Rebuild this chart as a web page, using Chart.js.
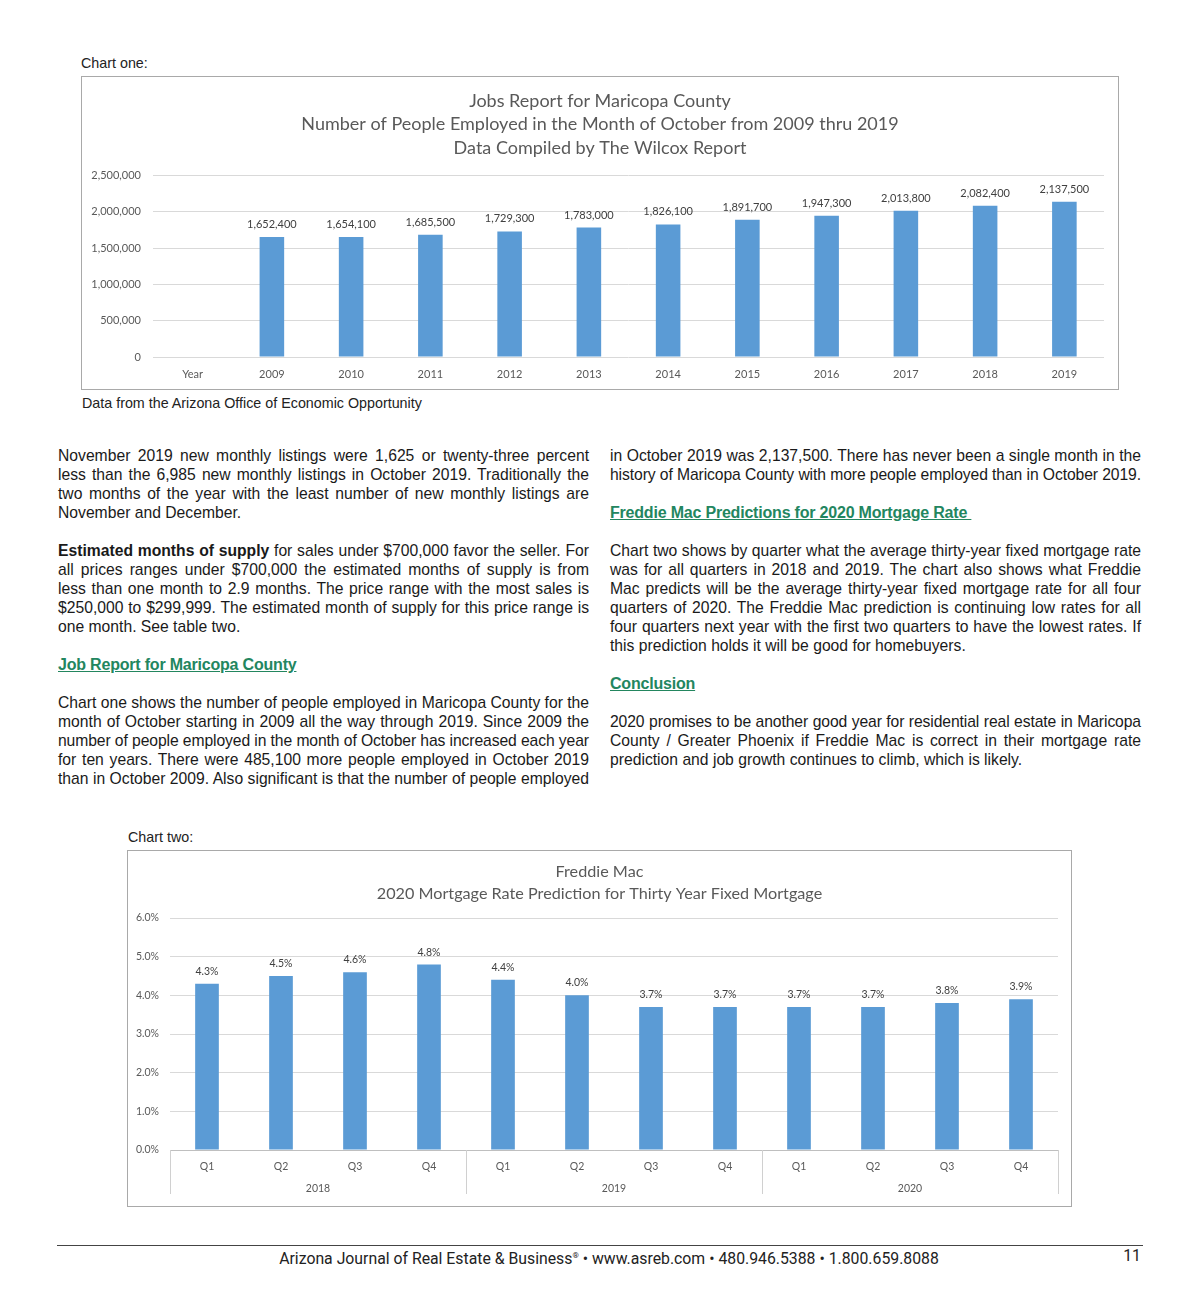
<!DOCTYPE html>
<html>
<head>
<meta charset="utf-8">
<script src="https://cdn.jsdelivr.net/npm/chart.js@4.4.1/dist/chart.umd.min.js"></script>
<style>
  html, body { margin: 0; padding: 0; background: #fff; }
  body { width: 1200px; height: 1302px; position: relative; font-family: "Liberation Sans", Arial, sans-serif; color: #1a1a1a; }
  .cap { position: absolute; font-size: 14.3px; line-height: 16px; color: #222; }
  .box { position: absolute; box-sizing: border-box; border: 1px solid #a9a9a9; background: #fff; }
  .box canvas { display: block; }
  .col { position: absolute; width: 531px; font-size: 15.7px; line-height: 19px; }
  .col .ln { white-space: nowrap; text-align: justify; text-align-last: justify; }
  .col .last { text-align: left; text-align-last: left; }
  .col .p { margin-bottom: 19px; }
  .col h3 { margin: 0 0 19px 0; font-size: 16px; line-height: 19px; font-weight: bold; color: #23865f; text-decoration: underline; white-space: pre; letter-spacing: -0.2px; }
  .rule { position: absolute; left: 57px; top: 1245px; width: 1086px; height: 1px; background: #444; }
  .foot { position: absolute; top: 1246px; font-family: Roboto, sans-serif; font-size: 15.8px; line-height: 19px; color: #222; }
</style>
</head>
<body>

<div class="cap" style="left:81px; top:55px;">Chart one:</div>
<div class="box" style="left:81px; top:76px; width:1038px; height:314px;"><canvas id="jobs"></canvas></div>
<div class="cap" style="left:82px; top:395px;">Data from the Arizona Office of Economic Opportunity</div>

<div class="col" id="left" style="left:58px; top:446px;">
  <div class="p">
    <div class="ln">November 2019 new monthly listings were 1,625 or twenty-three percent</div>
    <div class="ln">less than the 6,985 new monthly listings in October 2019. Traditionally the</div>
    <div class="ln">two months of the year with the least number of new monthly listings are</div>
    <div class="ln last">November and December.</div>
  </div>
  <div class="p">
    <div class="ln"><b>Estimated months of supply</b> for sales under $700,000 favor the seller. For</div>
    <div class="ln">all prices ranges under $700,000 the estimated months of supply is from</div>
    <div class="ln">less than one month to 2.9 months. The price range with the most sales is</div>
    <div class="ln">$250,000 to $299,999. The estimated month of supply for this price range is</div>
    <div class="ln last">one month. See table two.</div>
  </div>
  <h3>Job Report for Maricopa County</h3>
  <div class="p">
    <div class="ln">Chart one shows the number of people employed in Maricopa County for the</div>
    <div class="ln">month of October starting in 2009 all the way through 2019. Since 2009 the</div>
    <div class="ln">number of people employed in the month of October has increased each year</div>
    <div class="ln">for ten years. There were 485,100 more people employed in October 2019</div>
    <div class="ln">than in October 2009. Also significant is that the number of people employed</div>
  </div>
</div>

<div class="col" id="right" style="left:610px; top:446px;">
  <div class="p">
    <div class="ln">in October 2019 was 2,137,500. There has never been a single month in the</div>
    <div class="ln">history of Maricopa County with more people employed than in October 2019.</div>
  </div>
  <h3>Freddie Mac Predictions for 2020 Mortgage Rate </h3>
  <div class="p">
    <div class="ln">Chart two shows by quarter what the average thirty-year fixed mortgage rate</div>
    <div class="ln">was for all quarters in 2018 and 2019. The chart also shows what Freddie</div>
    <div class="ln">Mac predicts will be the average thirty-year fixed mortgage rate for all four</div>
    <div class="ln">quarters of 2020. The Freddie Mac prediction is continuing low rates for all</div>
    <div class="ln">four quarters next year with the first two quarters to have the lowest rates. If</div>
    <div class="ln last">this prediction holds it will be good for homebuyers.</div>
  </div>
  <h3>Conclusion</h3>
  <div class="p">
    <div class="ln">2020 promises to be another good year for residential real estate in Maricopa</div>
    <div class="ln">County / Greater Phoenix if Freddie Mac is correct in their mortgage rate</div>
    <div class="ln last">prediction and job growth continues to climb, which is likely.</div>
  </div>
</div>

<div class="cap" style="left:128px; top:829px;">Chart two:</div>
<div class="box" style="left:127px; top:850px; width:945px; height:357px;"><canvas id="rates"></canvas></div>

<div class="rule"></div>
<div class="foot" style="left:0; width:1218px; text-align:center;">Arizona Journal of Real Estate &amp; Business<sup style="font-size:8px;">®</sup> • www.asreb.com • 480.946.5388 • 1.800.659.8088</div>
<div class="foot" style="left:1100px; width:41px; text-align:right;">11</div>

<script>
// chart one data
const jobYears = ['Year', '2009', '2010', '2011', '2012', '2013', '2014', '2015', '2016', '2017', '2018', '2019'];
const jobCounts = [null, 1652400, 1654100, 1685500, 1729300, 1783000, 1826100, 1891700, 1947300, 2013800, 2082400, 2137500];
const jobTicks = [0, 500000, 1000000, 1500000, 2000000, 2500000];

// chart two data
const rateQuarters = ['Q1', 'Q2', 'Q3', 'Q4', 'Q1', 'Q2', 'Q3', 'Q4', 'Q1', 'Q2', 'Q3', 'Q4'];
const rateYears = ['2018', '2019', '2020'];
const rateValues = [4.3, 4.5, 4.6, 4.8, 4.4, 4.0, 3.7, 3.7, 3.7, 3.7, 3.8, 3.9];
const rateTicks = [0, 1, 2, 3, 4, 5, 6];

const FONT = 'Lato, "Open Sans", sans-serif';
const BAR = '#5b9bd5';

// squeeze body lines that would run past the column
document.querySelectorAll('.col .ln').forEach(el => {
    let ls = 0;
    while (el.scrollWidth > el.clientWidth + 0.5 && ls > -1.2) {
        ls -= 0.05;
        el.style.letterSpacing = ls + 'px';
    }
});

// empty right-hand axis, just keeps a margin so the title stays centred on the box
const spacer = w => ({
    position: 'right',
    display: true,
    grid: { display: false },
    border: { display: false },
    ticks: { display: false },
    afterFit: s => { s.width = w; }
});

// value labels above bars
const barLabels = {
    id: 'barLabels',
    afterDatasetsDraw(chart, args, opts) {
        const ctx = chart.ctx;
        const meta = chart.getDatasetMeta(0);
        const data = chart.data.datasets[0].data;
        ctx.save();
        ctx.font = opts.font;
        ctx.fillStyle = '#404040';
        ctx.textAlign = 'center';
        ctx.textBaseline = 'bottom';
        meta.data.forEach((bar, i) => {
            if (data[i] == null) return;
            ctx.fillText(opts.format(data[i]), bar.x, bar.y - opts.gap);
        });
        ctx.restore();
    }
};

// year groups under the quarter labels
const yearGroups = {
    id: 'yearGroups',
    afterDraw(chart) {
        const ctx = chart.ctx;
        const x = chart.scales.x;
        const area = chart.chartArea;
        const half = (x.getPixelForValue(1) - x.getPixelForValue(0)) / 2;
        ctx.save();
        ctx.strokeStyle = '#d0d0d0';
        ctx.lineWidth = 1;
        for (let g = 0; g <= rateYears.length; g++) {
            const px = Math.round(x.getPixelForValue(g * 4) - half) + 0.5;
            ctx.beginPath();
            ctx.moveTo(px, area.bottom);
            ctx.lineTo(px, area.bottom + 44);
            ctx.stroke();
        }
        ctx.font = '10.5px ' + FONT;
        ctx.fillStyle = '#595959';
        ctx.textAlign = 'center';
        ctx.textBaseline = 'middle';
        rateYears.forEach((yr, g) => {
            const mid = (x.getPixelForValue(g * 4) + x.getPixelForValue(g * 4 + 3)) / 2;
            ctx.fillText(yr, mid, area.bottom + 39);
        });
        ctx.restore();
    }
};

new Chart(document.getElementById('jobs'), {
    type: 'bar',
    data: {
        labels: jobYears,
        datasets: [{ data: jobCounts, backgroundColor: BAR, barPercentage: 0.31, categoryPercentage: 1 }]
    },
    options: {
        responsive: true,
        maintainAspectRatio: false,
        animation: false,
        layout: { padding: 0 },
        plugins: {
            legend: { display: false },
            tooltip: { enabled: false },
            title: {
                display: true,
                text: ['Jobs Report for Maricopa County', 'Number of People Employed in the Month of October from 2009 thru 2019', 'Data Compiled by The Wilcox Report'],
                color: '#595959',
                font: { family: FONT, size: 18, weight: 'normal', lineHeight: '23.5px' },
                padding: { top: 12, bottom: 16 }
            },
            barLabels: { font: '11px ' + FONT, gap: 7, format: v => v.toLocaleString('en-US') }
        },
        scales: {
            x: {
                grid: { display: false },
                border: { display: false },
                ticks: { color: '#595959', font: { family: FONT, size: 11 }, padding: 3 },
                afterFit: s => { s.height = 32; }
            },
            y: {
                min: 0, max: 2500000,
                afterBuildTicks: s => { s.ticks = jobTicks.map(v => ({ value: v })); },
                grid: { color: '#d9d9d9', drawTicks: false },
                border: { display: false },
                ticks: { color: '#595959', font: { family: FONT, size: 11 }, padding: 12, callback: v => v.toLocaleString('en-US') },
                afterFit: s => { s.width = 71; }
            },
            pad: spacer(14)
        }
    },
    plugins: [barLabels]
});

new Chart(document.getElementById('rates'), {
    type: 'bar',
    data: {
        labels: rateQuarters,
        datasets: [{ data: rateValues, backgroundColor: BAR, barPercentage: 0.32, categoryPercentage: 1 }]
    },
    options: {
        responsive: true,
        maintainAspectRatio: false,
        animation: false,
        layout: { padding: 0 },
        plugins: {
            legend: { display: false },
            tooltip: { enabled: false },
            title: {
                display: true,
                text: ['Freddie Mac', '2020 Mortgage Rate Prediction for Thirty Year Fixed Mortgage'],
                color: '#595959',
                font: { family: FONT, size: 16.2, weight: 'normal', lineHeight: '22px' },
                padding: { top: 10, bottom: 13 }
            },
            barLabels: { font: '10.5px ' + FONT, gap: 7, format: v => v.toFixed(1) + '%' }
        },
        scales: {
            x: {
                grid: { display: false },
                border: { display: true, color: '#bfbfbf' },
                ticks: { color: '#595959', font: { family: FONT, size: 10.5 }, padding: 2 },
                afterFit: s => { s.height = 56; }
            },
            y: {
                min: 0, max: 6,
                afterBuildTicks: s => { s.ticks = rateTicks.map(v => ({ value: v })); },
                grid: { color: '#d9d9d9', drawTicks: false },
                border: { display: false },
                ticks: { color: '#595959', font: { family: FONT, size: 10.5 }, padding: 11, callback: v => v.toFixed(1) + '%' },
                afterFit: s => { s.width = 42; }
            },
            pad: spacer(13)
        }
    },
    plugins: [barLabels, yearGroups]
});
</script>
</body>
</html>
